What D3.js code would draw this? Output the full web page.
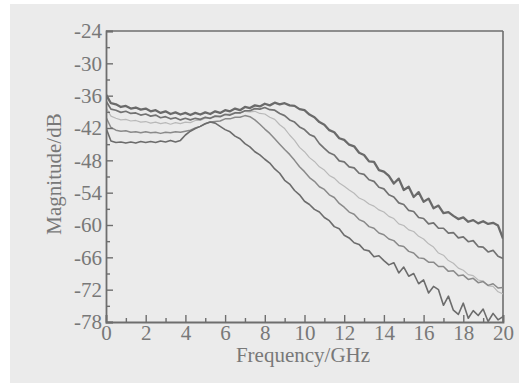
<!DOCTYPE html>
<html>
<head>
<meta charset="utf-8">
<script src="https://cdn.jsdelivr.net/npm/d3@7/dist/d3.min.js"></script>
<style>
  html, body { margin: 0; padding: 0; background: #ffffff; }
  svg { display: block; }
</style>
</head>
<body>
<svg id="chart" width="519" height="383"></svg>
<script>
// ---- data ----
const freqs = [0,0.25,0.5,0.75,1,1.25,1.5,1.75,2,2.25,2.5,2.75,3,3.25,3.5,3.75,4,4.25,4.5,4.75,5,5.25,5.5,5.75,6,6.25,6.5,6.75,7,7.25,7.5,7.75,8,8.25,8.5,8.75,9,9.25,9.5,9.75,10,10.25,10.5,10.75,11,11.25,11.5,11.75,12,12.25,12.5,12.75,13,13.25,13.5,13.75,14,14.25,14.5,14.75,15,15.25,15.5,15.75,16,16.25,16.5,16.75,17,17.25,17.5,17.75,18,18.25,18.5,18.75,19,19.25,19.5,19.75,20];

const curve1 = [-35.8,-37.4,-37.6,-38.1,-37.9,-38.4,-38.2,-38.6,-38.4,-38.9,-38.7,-39.2,-38.9,-39.4,-39.1,-39.5,-39.2,-39.6,-39.2,-39.5,-39.1,-39.4,-38.9,-39.2,-38.7,-38.9,-38.4,-38.7,-38.1,-38.3,-37.8,-38.0,-37.5,-37.8,-37.3,-37.6,-37.4,-37.8,-37.9,-38.5,-38.7,-39.5,-40.0,-40.9,-41.4,-42.4,-42.8,-43.9,-44.2,-45.1,-45.4,-46.6,-47.0,-48.2,-48.3,-49.8,-50.1,-50.9,-52.3,-51.4,-53.5,-52.9,-54.8,-53.9,-55.7,-55.1,-56.9,-56.4,-57.8,-57.6,-58.3,-58.9,-58.6,-59.4,-59.1,-59.7,-59.3,-59.8,-59.6,-60.1,-62.5];

const curve2 = [-37.0,-38.5,-38.7,-39.1,-38.9,-39.3,-39.2,-39.6,-39.4,-39.8,-39.6,-40.1,-39.9,-40.3,-40.1,-40.5,-40.2,-40.5,-40.2,-40.4,-40.0,-40.2,-39.8,-39.9,-39.5,-39.6,-39.2,-39.2,-38.8,-38.8,-38.4,-38.5,-38.2,-38.6,-38.7,-39.3,-39.7,-40.5,-40.9,-41.8,-42.3,-43.2,-43.6,-44.9,-45.8,-46.6,-47.0,-48.1,-48.3,-49.2,-49.4,-50.4,-50.6,-51.6,-51.9,-53.0,-53.3,-54.4,-54.8,-55.9,-56.2,-57.3,-57.5,-58.6,-58.8,-59.8,-59.6,-60.6,-60.6,-61.5,-61.4,-62.4,-62.2,-63.1,-62.9,-64.0,-64.1,-65.0,-64.7,-65.8,-66.2];

const curve3 = [-38.2,-39.8,-40.2,-40.5,-40.4,-40.7,-40.6,-40.9,-40.8,-41.1,-40.9,-41.2,-41.0,-41.3,-41.0,-41.2,-40.9,-41.0,-40.6,-40.6,-40.2,-40.2,-39.8,-39.8,-39.4,-39.4,-39.1,-39.2,-38.9,-39.0,-38.9,-39.3,-39.4,-40.0,-40.4,-41.4,-42.1,-43.3,-44.3,-45.6,-46.4,-47.5,-48.2,-49.2,-49.8,-50.8,-51.3,-52.2,-52.8,-53.5,-54.1,-55.0,-55.4,-56.1,-56.5,-57.2,-57.6,-58.4,-58.8,-59.8,-60.1,-60.9,-61.2,-62.1,-62.6,-63.5,-64.1,-65.2,-65.6,-66.6,-67.1,-68.0,-68.4,-69.2,-69.4,-70.2,-70.4,-71.3,-71.4,-72.4,-72.8];

const curve4 = [-40.0,-41.9,-42.4,-42.6,-42.5,-42.8,-42.7,-42.9,-42.7,-42.9,-42.8,-43.0,-42.8,-42.9,-42.7,-42.8,-42.6,-42.4,-42.0,-41.7,-41.2,-40.9,-40.8,-40.7,-40.3,-40.3,-40.0,-40.0,-39.7,-39.9,-40.5,-41.3,-42.2,-43.0,-44.0,-45.0,-46.0,-46.9,-48.0,-49.2,-50.1,-51.2,-51.9,-52.9,-53.4,-54.4,-54.9,-56.0,-56.7,-57.6,-58.0,-59.0,-59.4,-60.3,-60.6,-61.5,-61.8,-62.6,-62.9,-63.8,-64.0,-64.9,-65.2,-66.1,-66.2,-66.9,-66.9,-67.7,-67.7,-68.6,-68.5,-69.4,-69.3,-70.1,-69.9,-70.7,-70.5,-71.2,-70.9,-71.7,-71.6];

const curve5 = [-42.0,-44.4,-44.7,-44.6,-44.8,-44.6,-44.8,-44.5,-44.7,-44.5,-44.7,-44.4,-44.6,-44.3,-44.6,-44.3,-43.3,-42.6,-42.1,-41.7,-41.2,-40.9,-41.1,-41.7,-42.3,-42.7,-43.5,-44.0,-44.9,-45.5,-46.4,-47.0,-47.8,-48.5,-49.6,-50.4,-51.7,-52.4,-53.6,-54.4,-55.6,-56.2,-57.1,-57.6,-58.6,-59.2,-60.3,-60.7,-61.9,-62.4,-63.3,-63.6,-64.6,-64.8,-65.9,-65.7,-66.6,-67.4,-67.0,-68.9,-67.8,-69.5,-69.0,-70.9,-70.2,-72.6,-71.4,-72.0,-74.9,-73.2,-75.8,-76.6,-74.5,-77.3,-75.9,-76.8,-75.6,-77.9,-76.4,-77.6,-77.0];

const xTickValues = [0,2,4,6,8,10,12,14,16,18,20];
const xMinorTicks = [1,3,5,7,9,11,13,15,17,19];
const yTickValues = [-24,-30,-36,-42,-48,-54,-60,-66,-72,-78];
const yMinorTicks = [-27,-33,-39,-45,-51,-57,-63,-69,-75];
const xTitle = "Frequency/GHz";
const yTitle = "Magnitude/dB";

// ---- layout ----
const svg = d3.select("#chart");
const W = 519, H = 383;
const plot = { left: 106, right: 503, top: 31, bottom: 322 };
const ink = "#6e6e6e";
const textCol = "#787878";
const font = "'Liberation Serif', 'Times New Roman', serif";

svg.append("rect").attr("x", 10).attr("y", 4).attr("width", W - 10).attr("height", H - 4)
  .attr("fill", "#ebebeb");

const x = d3.scaleLinear().domain([0, 20]).range([plot.left, plot.right]);
const y = d3.scaleLinear().domain([-78, -24]).range([plot.bottom, plot.top]);

svg.append("defs").append("clipPath").attr("id", "clip")
  .append("rect").attr("x", plot.left).attr("y", plot.top)
  .attr("width", plot.right - plot.left).attr("height", plot.bottom - plot.top);

// frame top & right
svg.append("line").attr("x1", plot.left).attr("x2", plot.right).attr("y1", plot.top).attr("y2", plot.top)
  .attr("stroke", ink).attr("stroke-width", 1.6);
svg.append("line").attr("x1", plot.right).attr("x2", plot.right).attr("y1", plot.top).attr("y2", plot.bottom)
  .attr("stroke", ink).attr("stroke-width", 1.6);

// series
const series = [
  { vals: curve3, color: "#b9b9b9", width: 1.2 },
  { vals: curve4, color: "#8a8a8a", width: 1.5 },
  { vals: curve5, color: "#6c6c6c", width: 1.6 },
  { vals: curve2, color: "#727272", width: 1.7 },
  { vals: curve1, color: "#6a6a6a", width: 2.3 }
];
const line = d3.line().x((d, i) => x(freqs[i])).y(d => y(d));
const g = svg.append("g").attr("clip-path", "url(#clip)");
series.forEach(s => {
  g.append("path").datum(s.vals).attr("d", line)
    .attr("fill", "none").attr("stroke", s.color).attr("stroke-width", s.width)
    .attr("stroke-linejoin", "round");
});

// axes
function styleAxis(sel) {
  sel.select(".domain").attr("stroke", ink).attr("stroke-width", 1.8);
  sel.selectAll(".tick line").attr("stroke", ink).attr("stroke-width", 1.4);
  sel.selectAll(".tick text").attr("fill", textCol).attr("font-family", font).attr("font-size", 21);
}

const xAxis = svg.append("g").attr("transform", `translate(0,${plot.bottom})`)
  .call(d3.axisBottom(x).tickValues(xTickValues).tickSize(-7).tickPadding(3).tickFormat(d3.format("d")));
styleAxis(xAxis);
const xMinor = svg.append("g").attr("transform", `translate(0,${plot.bottom})`)
  .call(d3.axisBottom(x).tickValues(xMinorTicks).tickSize(-4).tickFormat(""));
styleAxis(xMinor);
xMinor.select(".domain").remove();

const yAxis = svg.append("g").attr("transform", `translate(${plot.left},0)`)
  .call(d3.axisLeft(y).tickValues(yTickValues).tickSize(-7).tickPadding(4).tickFormat(d3.format("d")));
styleAxis(yAxis);
yAxis.selectAll(".tick text").text(d => String(d));
const yMinor = svg.append("g").attr("transform", `translate(${plot.left},0)`)
  .call(d3.axisLeft(y).tickValues(yMinorTicks).tickSize(-4).tickFormat(""));
styleAxis(yMinor);
yMinor.select(".domain").remove();

// titles
svg.append("text").attr("x", 303).attr("y", 362).attr("text-anchor", "middle")
  .attr("fill", textCol).attr("font-family", font).attr("font-size", 21).text(xTitle);
svg.append("text").attr("transform", "translate(61,174) rotate(-90)").attr("text-anchor", "middle")
  .attr("fill", textCol).attr("font-family", font).attr("font-size", 21).text(yTitle);
</script>
</body>
</html>
